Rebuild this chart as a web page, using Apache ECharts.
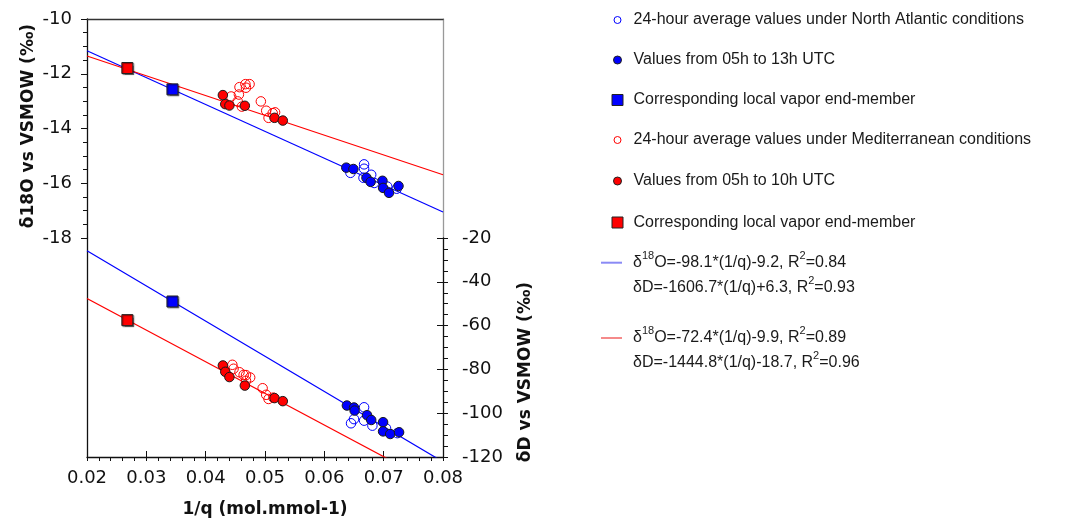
<!DOCTYPE html>
<html>
<head>
<meta charset="utf-8">
<script src="https://cdn.jsdelivr.net/npm/echarts@6/dist/echarts.min.js"></script>
<style>
html,body{margin:0;padding:0;background:#fff;}
#chart{width:1066px;height:523px;}
</style>
</head>
<body>
<div id="chart"></div>
<script>
// ---------- data (x = 1/q in mol.mmol-1) ----------
// North Atlantic: 24-hour averages (open blue)
const na24_O = [[0.0667,-15.31],[0.0667,-15.47],[0.0644,-15.62],[0.0679,-15.69],[0.0666,-15.80],[0.0684,-15.99],[0.0706,-16.12],[0.0722,-16.20]];
const na24_D = [[0.0667,-97.3],[0.0650,-102.7],[0.0645,-104.6],[0.0667,-103.4],[0.0681,-105.7],[0.0704,-106.9],[0.0723,-109.1]];
// North Atlantic: 05h-13h UTC (filled blue)
const naDay_O = [[0.0637,-15.43],[0.0649,-15.48],[0.0671,-15.80],[0.0678,-15.95],[0.0698,-15.91],[0.0699,-16.17],[0.0709,-16.35],[0.0725,-16.10]];
const naDay_D = [[0.0638,-96.5],[0.0650,-97.4],[0.0651,-98.8],[0.0672,-100.9],[0.0679,-103.1],[0.0699,-104.1],[0.0699,-108.3],[0.0711,-109.5],[0.0726,-108.7]];
// North Atlantic end-member (blue square)
const naEnd_O = [[0.0344,-12.57]];
const naEnd_D = [[0.0344,-49.0]];
// Mediterranean: 24-hour averages (open red)
const med24_O = [[0.0443,-12.83],[0.0457,-12.49],[0.0468,-12.51],[0.0467,-12.38],[0.0474,-12.38],[0.0456,-12.76],[0.0454,-13.01],[0.0461,-13.20],[0.0493,-13.01],[0.0502,-13.35],[0.0506,-13.61],[0.0513,-13.44],[0.0517,-13.41]];
const med24_D = [[0.0445,-77.9],[0.0447,-79.7],[0.0457,-81.3],[0.0464,-82.5],[0.0468,-82.6],[0.0475,-83.7],[0.0468,-85.2],[0.0496,-88.6],[0.0502,-91.6],[0.0506,-93.5],[0.0514,-92.9]];
// Mediterranean: 05h-10h UTC (filled red)
const medDay_O = [[0.0429,-12.78],[0.0433,-13.11],[0.0440,-13.16],[0.0466,-13.17],[0.0516,-13.61],[0.0530,-13.71]];
const medDay_D = [[0.0429,-78.2],[0.0433,-81.1],[0.0440,-83.5],[0.0466,-87.4],[0.0516,-93.1],[0.0530,-94.5]];
// Mediterranean end-member (red square)
const medEnd_O = [[0.0268,-11.79]];
const medEnd_D = [[0.0268,-57.5]];
// regression lines (end points)
const naFit_O = [[0.02,-11.16],[0.08,-17.05]];
const naFit_D = [[0.02,-25.8],[0.08,-122.2]];
const medFit_O = [[0.02,-11.35],[0.08,-15.69]];
const medFit_D = [[0.02,-47.6],[0.08,-134.3]];

// axis ranges / tick steps
const xRange = [0.02, 0.08, 0.01];
const oRange = [-18, -10, 2];
const dRange = [-120, -20, 20];

// text
const titles = ['δ18O vs VSMOW (‰)', 'δD vs VSMOW (‰)', '1/q (mol.mmol-1)'];
const legendNames = ['na24','naDay','naEnd','med24','medDay','medEnd','naFit','medFit'];
const legendTexts = [
  '24-hour average values under North Atlantic conditions',
  'Values from 05h to 13h UTC',
  'Corresponding local vapor end-member',
  '24-hour average values under Mediterranean conditions',
  'Values from 05h to 10h UTC',
  'Corresponding local vapor end-member',
  'δ{s|18}O=-98.1*(1/q)-9.2, R{s|2}=0.84\nδD=-1606.7*(1/q)+6.3, R{s|2}=0.93',
  'δ{s|18}O=-72.4*(1/q)-9.9, R{s|2}=0.89\nδD=-1444.8*(1/q)-18.7, R{s|2}=0.96'
];

// ---------- styles ----------
const BLUE = '#0000ff', RED = '#ff0000';
const tickFont = {fontFamily:'DejaVu Sans', fontSize:18, color:'#111'};
const nameFont = {fontFamily:'DejaVu Sans', fontSize:17, fontWeight:'bold', color:'#111'};
const blackLine = {show:true, lineStyle:{color:'#111', width:1.3}};
const none = {show:false};

const chart = echarts.init(document.getElementById('chart'));

function hiddenAxis(extra){ return Object.assign({axisLine:none, axisTick:none, axisLabel:none, splitLine:none, minorTick:none}, extra); }

const xAxes = [
  hiddenAxis({gridIndex:0, type:'value', min:xRange[0], max:xRange[1], position:'bottom'}),
  hiddenAxis({gridIndex:0, type:'value', min:xRange[0], max:xRange[1], position:'top', axisLine:{show:true, lineStyle:{color:'#333', width:1.3}}}),
  {gridIndex:1, type:'value', min:xRange[0], max:xRange[1], interval:xRange[2], position:'bottom',
   axisLine:blackLine, axisTick:{show:true, inside:false, length:4, lineStyle:{color:'#111'}},
   minorTick:{show:true, splitNumber:5, length:4, lineStyle:{color:'#111'}},
   axisLabel:Object.assign({margin:12, formatter:v=>v.toFixed(2)}, tickFont),
   splitLine:none, minorSplitLine:none,
   name:titles[2], nameLocation:'middle', nameGap:44, nameTextStyle:nameFont},
  hiddenAxis({gridIndex:1, type:'value', min:xRange[0], max:xRange[1], interval:xRange[2], position:'bottom',
   axisTick:{show:true, inside:true, length:6, lineStyle:{color:'#111'}}})
];

const yAxes = [
  {gridIndex:0, type:'value', min:oRange[0], max:oRange[1], interval:oRange[2], position:'left',
   axisLine:blackLine, axisTick:{show:true, length:6, lineStyle:{color:'#111'}},
   minorTick:{show:true, splitNumber:4, length:4, lineStyle:{color:'#111'}},
   axisLabel:Object.assign({margin:15}, tickFont), splitLine:none, minorSplitLine:none,
   name:titles[0], nameLocation:'middle', nameRotate:90, nameGap:50,
   nameTextStyle:Object.assign({padding:[0,0,0,5]}, nameFont)},
  hiddenAxis({gridIndex:0, type:'value', min:oRange[0], max:oRange[1], position:'right', axisLine:{show:true, lineStyle:{color:'#999', width:1.3}}}),
  {gridIndex:1, type:'value', min:dRange[0], max:dRange[1], interval:dRange[2], position:'right',
   axisLine:blackLine, axisTick:{show:true, length:5, lineStyle:{color:'#111'}},
   minorTick:{show:true, splitNumber:4, length:5, lineStyle:{color:'#111'}},
   axisLabel:Object.assign({margin:19}, tickFont), splitLine:none, minorSplitLine:none,
   name:titles[1], nameLocation:'middle', nameRotate:90, nameGap:74,
   nameTextStyle:Object.assign({padding:[0,49,0,0]}, nameFont)},
  hiddenAxis({gridIndex:1, type:'value', min:dRange[0], max:dRange[1], interval:dRange[2], position:'right',
   axisTick:{show:true, inside:true, length:6, lineStyle:{color:'#111'}}}),
  hiddenAxis({gridIndex:1, type:'value', min:dRange[0], max:dRange[1], position:'left', axisLine:blackLine})
];

function lineSeries(name, data, color, g, y){
  return {name, type:'line', data, xAxisIndex:g===0?0:2, yAxisIndex:y, symbol:'none', showSymbol:false,
    lineStyle:{color, width:1.2, opacity:1}, itemStyle:{color}, clip:true, silent:true, z:2};
}
function openSeries(name, data, color, g, y){
  return {name, type:'scatter', data, xAxisIndex:g===0?0:2, yAxisIndex:y, symbol:'circle', symbolSize:9.5,
    itemStyle:{color:'rgba(255,255,255,0)', borderColor:color, borderWidth:1, opacity:1}, silent:true, z:3};
}
function filledSeries(name, data, color, g, y){
  return {name, type:'scatter', data, xAxisIndex:g===0?0:2, yAxisIndex:y, symbol:'circle', symbolSize:9.5,
    itemStyle:{color, borderColor:'#1a1a1a', borderWidth:1, opacity:1}, silent:true, z:4};
}
function squareSeries(name, data, color, g, y){
  return {name, type:'scatter', data, xAxisIndex:g===0?0:2, yAxisIndex:y, symbol:'rect', symbolSize:11,
    itemStyle:{color, borderColor:'#222', borderWidth:1, opacity:1, shadowColor:'rgba(0,0,0,0.45)', shadowBlur:1, shadowOffsetX:1, shadowOffsetY:1}, silent:true, z:5};
}

const series = [
  lineSeries('naFit', naFit_O, BLUE, 0, 0),
  lineSeries('medFit', medFit_O, RED, 0, 0),
  lineSeries('naFit', naFit_D, BLUE, 1, 2),
  lineSeries('medFit', medFit_D, RED, 1, 2),
  openSeries('na24', na24_O, BLUE, 0, 0),
  openSeries('med24', med24_O, RED, 0, 0),
  openSeries('na24', na24_D, BLUE, 1, 2),
  openSeries('med24', med24_D, RED, 1, 2),
  filledSeries('naDay', naDay_O, BLUE, 0, 0),
  filledSeries('medDay', medDay_O, RED, 0, 0),
  filledSeries('naDay', naDay_D, BLUE, 1, 2),
  filledSeries('medDay', medDay_D, RED, 1, 2),
  squareSeries('naEnd', naEnd_O, BLUE, 0, 0),
  squareSeries('medEnd', medEnd_O, RED, 0, 0),
  squareSeries('naEnd', naEnd_D, BLUE, 1, 2),
  squareSeries('medEnd', medEnd_D, RED, 1, 2)
];

// legend rows (one legend component per row)
const legFont = {fontFamily:'Liberation Sans, Arial, sans-serif', fontSize:16, color:'#1a1a1a', lineHeight:20};
const iconDefs = {
  na24:{icon:'circle', w:7, h:7, style:{color:'#fff', borderColor:BLUE, borderWidth:1, opacity:1}},
  naDay:{icon:'circle', w:8, h:8, style:{color:BLUE, borderColor:'#222', borderWidth:1, opacity:1}},
  naEnd:{icon:'rect', w:11, h:11, style:{color:BLUE, borderColor:'#222', borderWidth:1, opacity:1}},
  med24:{icon:'circle', w:7, h:7, style:{color:'#fff', borderColor:RED, borderWidth:1, opacity:1}},
  medDay:{icon:'circle', w:8, h:8, style:{color:RED, borderColor:'#222', borderWidth:1, opacity:1}},
  medEnd:{icon:'rect', w:11, h:11, style:{color:RED, borderColor:'#222', borderWidth:1, opacity:1}},
  naFit:{icon:'rect', w:21, h:2, style:{color:'#8a8af5', borderWidth:0, opacity:1}},
  medFit:{icon:'rect', w:21, h:2, style:{color:'#f58a8a', borderWidth:0, opacity:1}}
};
const rowCenters = [20, 60, 100, 140, 181, 222.5, 262.7, 338];
const legends = legendNames.map((nm, i) => {
  const d = iconDefs[nm];
  const isFit = i >= 6;
  const iconCx = isFit ? 611.5 : 617;
  const left = iconCx - d.w/2;
  const textStart = left + d.w + 5;
  const padL = 633 - textStart;
  const ts = Object.assign({}, legFont, isFit ? {lineHeight:25, padding:[25,0,0,padL]} : {padding:[0,0,0,padL]});
  ts.rich = {s:{fontFamily:'Liberation Sans, Arial, sans-serif', fontSize:11, color:'#1a1a1a', lineHeight:20, verticalAlign:'top'}};
  const boxH = isFit ? 75 : 20;
  return {
    show:true, orient:'horizontal', left:left, top:rowCenters[i] - boxH/2, padding:0,
    itemWidth:d.w, itemHeight:d.h, selectedMode:false,
    data:[{name:nm, icon:d.icon, itemStyle:d.style}],
    formatter:()=>legendTexts[i], textStyle:ts
  };
});

chart.setOption({
  animation:false,
  backgroundColor:'#fff',
  grid:[
    {left:87, width:356, top:19, height:219},
    {left:87, width:356, top:238, height:219}
  ],
  xAxis:xAxes,
  yAxis:yAxes,
  legend:legends,
  series:series
});
</script>
</body>
</html>
